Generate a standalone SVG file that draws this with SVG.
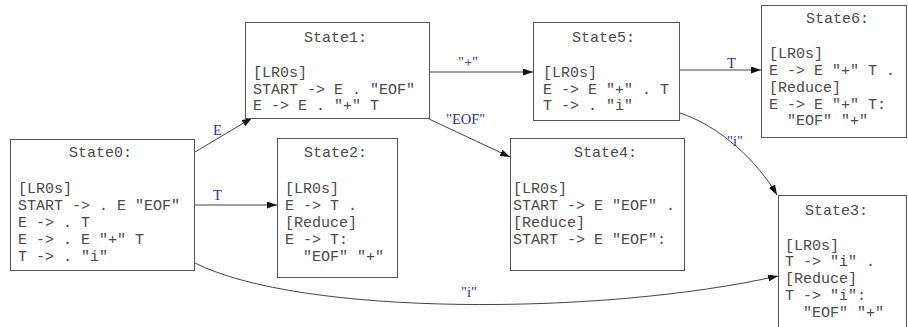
<svg xmlns="http://www.w3.org/2000/svg" width="908" height="327" viewBox="0 0 908 327">
  <style>
    .box { fill: #ffffff; stroke: #555555; stroke-width: 1; }
    .t { font-family: "Liberation Mono", "Courier New", monospace; font-size: 15px; fill: #4a4a4a; }
    .edge { fill: none; stroke: #444444; stroke-width: 1; }
    .lbl { font-family: "Liberation Serif", "Times New Roman", serif; font-size: 14.5px; fill: #2536a6; }
  </style>
  <defs>
    <marker id="arrow" markerUnits="userSpaceOnUse" markerWidth="11" markerHeight="8" refX="10" refY="3.5" orient="auto">
      <path d="M0,0 L10,3.5 L0,7 z" fill="#111111"/>
    </marker>
  </defs>
  <rect width="908" height="327" fill="#ffffff"/>

  <!-- transitions -->
  <g id="edges">
    <path class="edge" d="M195,152 L252,118" marker-end="url(#arrow)"/>
    <text class="lbl" x="213" y="135">E</text>
    <path class="edge" d="M195,205 L277,205" marker-end="url(#arrow)"/>
    <text class="lbl" x="213" y="200">T</text>
    <path class="edge" d="M429,72 L533,72" marker-end="url(#arrow)"/>
    <text class="lbl" x="458" y="67">"+"</text>
    <path class="edge" d="M429,119 L510,157" marker-end="url(#arrow)"/>
    <text class="lbl" x="446" y="124">"EOF"</text>
    <path class="edge" d="M679,70 L761,70" marker-end="url(#arrow)"/>
    <text class="lbl" x="727" y="68">T</text>
    <path class="edge" d="M680,113 C720,126 758,162 777,195" marker-end="url(#arrow)"/>
    <text class="lbl" x="727" y="146">"i"</text>
    <path class="edge" d="M195,263 C300,316 600,316 778,276" marker-end="url(#arrow)"/>
    <text class="lbl" x="461" y="297">"i"</text>
  </g>

  <g id="state0">
    <rect class="box" x="10.5" y="139.5" width="184" height="131"/>
    <text class="t" x="69" y="157">State0:</text>
    <text class="t" x="18" y="193">[LR0s]</text>
    <text class="t" x="18" y="210">START -&gt; . E "EOF"</text>
    <text class="t" x="18" y="227">E -&gt; . T</text>
    <text class="t" x="18" y="244">E -&gt; . E "+" T</text>
    <text class="t" x="18" y="261">T -&gt; . "i"</text>
  </g>

  <g id="state1">
    <rect class="box" x="245.5" y="22.5" width="184" height="96"/>
    <text class="t" x="304" y="42">State1:</text>
    <text class="t" x="253" y="77">[LR0s]</text>
    <text class="t" x="253" y="94">START -&gt; E . "EOF"</text>
    <text class="t" x="253" y="110">E -&gt; E . "+" T</text>
  </g>

  <g id="state2">
    <rect class="box" x="277.5" y="138.5" width="120" height="139"/>
    <text class="t" x="304" y="157">State2:</text>
    <text class="t" x="285" y="193">[LR0s]</text>
    <text class="t" x="285" y="210">E -&gt; T .</text>
    <text class="t" x="285" y="227">[Reduce]</text>
    <text class="t" x="285" y="244">E -&gt; T:</text>
    <text class="t" x="303" y="261">"EOF" "+"</text>
  </g>

  <g id="state4">
    <rect class="box" x="510.5" y="138.5" width="174" height="132"/>
    <text class="t" x="574" y="157">State4:</text>
    <text class="t" x="513" y="193">[LR0s]</text>
    <text class="t" x="513" y="210">START -&gt; E "EOF" .</text>
    <text class="t" x="513" y="227">[Reduce]</text>
    <text class="t" x="513" y="244">START -&gt; E "EOF":</text>
  </g>

  <g id="state5">
    <rect class="box" x="533.5" y="22.5" width="146" height="98"/>
    <text class="t" x="572" y="42">State5:</text>
    <text class="t" x="543" y="77">[LR0s]</text>
    <text class="t" x="543" y="94">E -&gt; E "+" . T</text>
    <text class="t" x="543" y="110">T -&gt; . "i"</text>
  </g>

  <g id="state6">
    <rect class="box" x="761.5" y="5.5" width="145" height="132"/>
    <text class="t" x="806" y="23">State6:</text>
    <text class="t" x="769" y="58">[LR0s]</text>
    <text class="t" x="769" y="75">E -&gt; E "+" T .</text>
    <text class="t" x="769" y="92">[Reduce]</text>
    <text class="t" x="769" y="109">E -&gt; E "+" T:</text>
    <text class="t" x="787" y="125">"EOF" "+"</text>
  </g>

  <g id="state3">
    <rect class="box" x="778.5" y="195.5" width="128" height="140"/>
    <text class="t" x="805" y="215">State3:</text>
    <text class="t" x="785" y="250">[LR0s]</text>
    <text class="t" x="785" y="266">T -&gt; "i" .</text>
    <text class="t" x="785" y="283">[Reduce]</text>
    <text class="t" x="785" y="300">T -&gt; "i":</text>
    <text class="t" x="803" y="317">"EOF" "+"</text>
  </g>
</svg>
